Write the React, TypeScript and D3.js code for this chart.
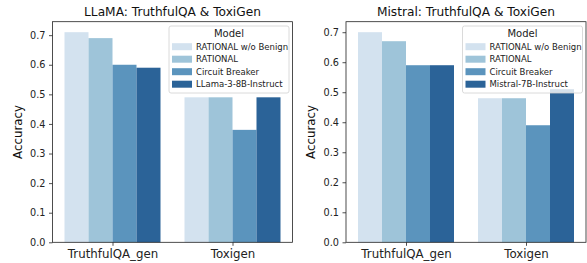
import { useRef, useEffect } from 'react';
import * as d3 from 'd3';

const categories = ["TruthfulQA_gen", "Toxigen"];
const llamaModels = ["RATIONAL w/o Benign", "RATIONAL", "Circuit Breaker", "LLama-3-8B-Instruct"];
const mistralModels = ["RATIONAL w/o Benign", "RATIONAL", "Circuit Breaker", "Mistral-7B-Instruct"];
// one array per category, values in model order
const llamaTruthful = [0.71, 0.69, 0.60, 0.59];
const llamaToxigen = [0.49, 0.49, 0.38, 0.49];
const mistralTruthful = [0.70, 0.67, 0.59, 0.59];
const mistralToxigen = [0.48, 0.48, 0.39, 0.51];
const yTicks = [0, 0.1, 0.2, 0.3, 0.4, 0.5, 0.6, 0.7];
const colors = ["#d3e2ef", "#9ec4d9", "#5b94bd", "#2b6398"];

const font = "DejaVu Sans, sans-serif";

const drawPanel = (svg, opts) => {
  const { left, right, title, models, values } = opts;
  const top = 21.7;
  const bottom = 242.3;
  const g = svg.append("g");

  const ymax = d3.max(values.flat()) * 1.05;
  const x = d3.scaleLinear().domain([-0.5, 1.5]).range([left, right]);
  const y = d3.scaleLinear().domain([0, ymax]).range([bottom, top]);
  const bw = x(0.2) - x(0);

  // bars
  values.forEach((vals, i) => {
    g.append("g")
      .selectAll("rect")
      .data(vals)
      .join("rect")
      .attr("x", (d, j) => x(i - 0.4 + j * 0.2))
      .attr("width", bw)
      .attr("y", (d) => y(d))
      .attr("height", (d) => y(0) - y(d))
      .attr("fill", (d, j) => colors[j]);
  });

  // axes
  const yAxis = g.append("g")
    .attr("transform", `translate(${left},0)`)
    .call(d3.axisLeft(y).tickValues(yTicks).tickFormat(d3.format(".1f")).tickSize(3.5).tickPadding(3.5));
  yAxis.select(".domain").remove();
  yAxis.selectAll("text").attr("font-size", 9.7).attr("font-family", font).attr("fill", "#222");
  yAxis.selectAll("line").attr("stroke", "#222").attr("stroke-width", 0.8);

  const xAxis = g.append("g")
    .attr("transform", `translate(0,${bottom})`)
    .call(d3.axisBottom(x).tickValues([0, 1]).tickFormat((d) => categories[d]).tickSize(3.5).tickPadding(3.5));
  xAxis.select(".domain").remove();
  xAxis.selectAll("text").attr("font-size", 11.8).attr("font-family", font).attr("fill", "#222");
  xAxis.selectAll("line").attr("stroke", "#222").attr("stroke-width", 0.8);

  g.append("rect")
    .attr("x", left).attr("y", top)
    .attr("width", right - left).attr("height", bottom - top)
    .attr("fill", "none").attr("stroke", "#222").attr("stroke-width", 0.8);

  // labels
  g.append("text")
    .attr("x", (left + right) / 2).attr("y", 16)
    .attr("text-anchor", "middle")
    .attr("font-size", 12.2).attr("font-family", font).attr("fill", "#111")
    .text(title);

  g.append("text")
    .attr("transform", `translate(${left - 31},${(top + bottom) / 2}) rotate(-90)`)
    .attr("text-anchor", "middle")
    .attr("font-size", 11.8).attr("font-family", font).attr("fill", "#111")
    .text("Accuracy");

  // legend
  const lw = 120, lh = 67;
  const lg = g.append("g").attr("transform", `translate(${right - 3.5 - lw},26)`);
  lg.append("rect")
    .attr("width", lw).attr("height", lh).attr("rx", 2)
    .attr("fill", "white").attr("fill-opacity", 0.8)
    .attr("stroke", "#d0d0d0").attr("stroke-width", 0.8);
  lg.append("text")
    .attr("x", lw / 2).attr("y", 11)
    .attr("text-anchor", "middle")
    .attr("font-size", 10).attr("font-family", font).attr("fill", "#222")
    .text("Model");
  const rows = lg.selectAll("g.row").data(models).join("g")
    .attr("class", "row")
    .attr("transform", (d, j) => `translate(0,${20.7 + j * 12.5})`);
  rows.append("rect")
    .attr("x", 3).attr("y", -3.5).attr("width", 20).attr("height", 7)
    .attr("fill", (d, j) => colors[j]);
  rows.append("text")
    .attr("x", 27).attr("y", 0).attr("dy", "0.35em")
    .attr("font-size", 8.5).attr("font-family", font).attr("fill", "#222")
    .text((d) => d);
};

export default function App() {
  const ref = useRef();

  useEffect(() => {
    const svg = d3.select(ref.current);
    svg.selectAll("*").remove();
    drawPanel(svg, {
      left: 52.5, right: 292.5,
      title: "LLaMA: TruthfulQA & ToxiGen",
      models: llamaModels,
      values: [llamaTruthful, llamaToxigen],
    });
    drawPanel(svg, {
      left: 346, right: 586,
      title: "Mistral: TruthfulQA & ToxiGen",
      models: mistralModels,
      values: [mistralTruthful, mistralToxigen],
    });
  }, []);

  return (
    <svg
      ref={ref}
      width={587}
      height={263}
      style={{ position: "absolute", left: 0, top: 0, background: "white" }}
    />
  );
}
